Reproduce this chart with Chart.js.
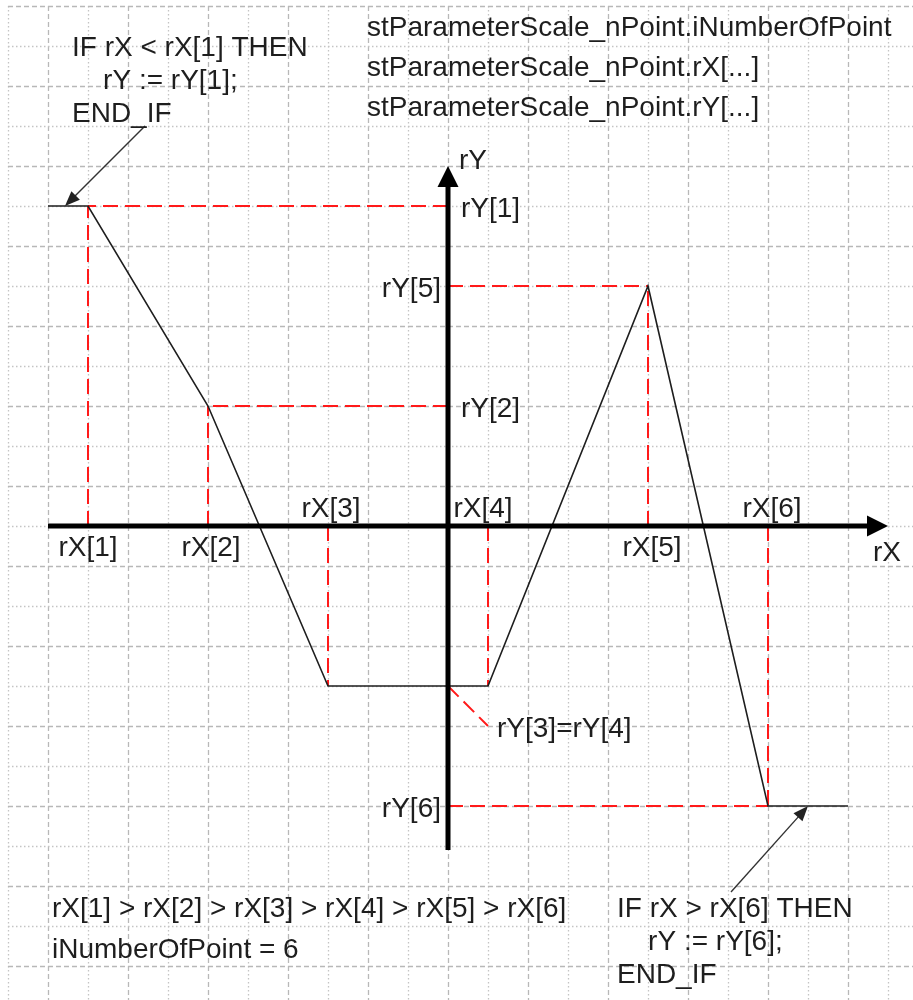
<!DOCTYPE html>
<html>
<head>
<meta charset="utf-8">
<script src="https://cdn.jsdelivr.net/npm/chart.js@4/dist/chart.umd.min.js"></script>
<style>
  html, body { margin: 0; padding: 0; background: #fff; }
  #wrap { width: 913px; height: 1000px; }
</style>
</head>
<body>
<div id="wrap"><canvas id="scale-chart" width="913" height="1000"></canvas></div>
<script>
// 1 unit = one grid cell of the paper
const rX = [-9, -6, -3, 1, 5, 8];
const rY = [8, 3, -4, -4, 6, -7];
const rXBelowFirst = -10;   // flat part before rX[1]
const rXAfterLast = 10;     // flat part after rX[6]
const rXNames = ['rX[1]', 'rX[2]', 'rX[3]', 'rX[4]', 'rX[5]', 'rX[6]'];
const rYNames = ['rY[1]', 'rY[2]', 'rY[3]', 'rY[4]', 'rY[5]', 'rY[6]'];
const rY34Name = 'rY[3]=rY[4]';
const rY34Leader = { x: 1, y: -5 };

// view window and axes (grid units)
const viewX = [-11.2, 11.625];
const viewY = [-11.85, 13.15];
const gridXRange = [-11, 11];
const gridYRange = [-11, 13];
const axisX = [-10, 11];
const axisY = [-8.1, 9];

// text blocks: anchor in grid units, one baseline per line
const notesTopLeft = ['IF rX < rX[1] THEN', '    rY := rY[1];', 'END_IF'];
const notesTopRight = ['stParameterScale_nPoint.iNumberOfPoint', 'stParameterScale_nPoint.rX[...]', 'stParameterScale_nPoint.rY[...]'];
const notesBottomLeft = ['rX[1] > rX[2] > rX[3] > rX[4] > rX[5] > rX[6]', 'iNumberOfPoint = 6'];
const notesBottomRight = ['IF rX > rX[6] THEN', '    rY := rY[6];', 'END_IF'];
const pointerFirst = [{ x: -7.575, y: 10 }, { x: -9.575, y: 8 }];
const pointerLast = [{ x: 7.075, y: -9.15 }, { x: 9, y: -7 }];

const RED = '#ff1a1a';
const INK = '#1e1e1e';
const FONT = '28px "Liberation Sans", Arial, sans-serif';

function curvePoints() {
  const pts = [{ x: rXBelowFirst, y: rY[0] }];
  rX.forEach(function(v, i) { pts.push({ x: v, y: rY[i] }); });
  pts.push({ x: rXAfterLast, y: rY[rY.length - 1] });
  return pts;
}

function guideSegments() {
  const segs = [];
  rX.forEach(function(v, i) {
    segs.push([{ x: v, y: 0 }, { x: v, y: rY[i] }]);
    if (i !== 2 && i !== 3) segs.push([{ x: 0, y: rY[i] }, { x: v, y: rY[i] }]);
  });
  segs.push([{ x: 0, y: rY[2] }, rY34Leader]);
  return segs;
}

const datasets = [{
  data: curvePoints(),
  showLine: true, borderColor: INK, borderWidth: 1.6,
  pointRadius: 0, order: 0
}];
guideSegments().forEach(function(s) {
  datasets.push({
    data: s, showLine: true, borderColor: RED, borderWidth: 2,
    borderDash: [15, 7], pointRadius: 0, order: 1
  });
});

function px(chart, p) {
  return [chart.scales.x.getPixelForValue(p.x), chart.scales.y.getPixelForValue(p.y)];
}

const paperGrid = {
  id: 'paperGrid',
  beforeDatasetsDraw: function(chart) {
    const ctx = chart.ctx, sx = chart.scales.x, sy = chart.scales.y, a = chart.chartArea;
    const left = sx.getPixelForValue(gridXRange[0]), top = sy.getPixelForValue(gridYRange[1]);
    ctx.save();
    ctx.lineWidth = 1.3;
    for (let v = gridXRange[0]; v <= gridXRange[1]; v++) {
      const p = Math.round(sx.getPixelForValue(v)) + 0.5;
      const dashed = Math.abs(v) % 2 === 0;
      ctx.setLineDash(dashed ? [5, 3] : [1.5, 2.5]);
      ctx.strokeStyle = dashed ? '#b8b8b8' : '#c4c4c4';
      ctx.beginPath(); ctx.moveTo(p, top); ctx.lineTo(p, a.bottom); ctx.stroke();
    }
    for (let v = gridYRange[0]; v <= gridYRange[1]; v++) {
      const p = Math.round(sy.getPixelForValue(v)) + 0.5;
      const dashed = Math.abs(v) % 2 === 1;
      ctx.setLineDash(dashed ? [5, 3] : [1.5, 2.5]);
      ctx.strokeStyle = dashed ? '#b8b8b8' : '#c4c4c4';
      ctx.beginPath(); ctx.moveTo(left, p); ctx.lineTo(a.right, p); ctx.stroke();
    }
    ctx.restore();
  }
};

function arrowHead(ctx, from, to, len, half) {
  const ang = Math.atan2(to[1] - from[1], to[0] - from[0]);
  ctx.beginPath();
  ctx.moveTo(to[0], to[1]);
  ctx.lineTo(to[0] - len * Math.cos(ang) + half * Math.sin(ang), to[1] - len * Math.sin(ang) - half * Math.cos(ang));
  ctx.lineTo(to[0] - len * Math.cos(ang) - half * Math.sin(ang), to[1] - len * Math.sin(ang) + half * Math.cos(ang));
  ctx.closePath();
  ctx.fill();
}

function textBlock(ctx, lines, x, y, step) {
  lines.forEach(function(t, i) { ctx.fillText(t, x, y + i * step); });
}

const overlay = {
  id: 'overlay',
  afterDatasetsDraw: function(chart) {
    const ctx = chart.ctx;
    ctx.save();
    // axes
    ctx.strokeStyle = '#000'; ctx.fillStyle = '#000'; ctx.lineWidth = 5;
    const xa0 = px(chart, { x: axisX[0], y: 0 }), xa1 = px(chart, { x: axisX[1], y: 0 });
    const ya0 = px(chart, { x: 0, y: axisY[0] }), ya1 = px(chart, { x: 0, y: axisY[1] });
    ctx.beginPath(); ctx.moveTo(xa0[0], xa0[1]); ctx.lineTo(xa1[0] - 15, xa1[1]); ctx.stroke();
    ctx.beginPath(); ctx.moveTo(ya0[0], ya0[1]); ctx.lineTo(ya1[0], ya1[1] + 15); ctx.stroke();
    arrowHead(ctx, xa0, xa1, 21, 10.5);
    arrowHead(ctx, ya0, ya1, 21, 10.5);

    // pointers
    ctx.strokeStyle = '#333'; ctx.fillStyle = '#222'; ctx.lineWidth = 1.4;
    [pointerFirst, pointerLast].forEach(function(pp) {
      const a = px(chart, pp[0]), b = px(chart, pp[1]);
      ctx.beginPath(); ctx.moveTo(a[0], a[1]); ctx.lineTo(b[0] - (b[0] - a[0]) * 0.1, b[1] - (b[1] - a[1]) * 0.1); ctx.stroke();
      arrowHead(ctx, a, b, 15, 6);
    });

    // labels
    ctx.font = FONT; ctx.fillStyle = INK; ctx.textBaseline = 'alphabetic';
    ctx.textAlign = 'center';
    const below = [true, true, false, false, true, false];
    const shiftX = [0, 3, 3, -5, 4, 4];
    rX.forEach(function(v, i) {
      const p = px(chart, { x: v, y: 0 });
      ctx.fillText(rXNames[i], p[0] + shiftX[i], p[1] + (below[i] ? 30 : -9));
    });
    [0, 1, 4, 5].forEach(function(i) {
      const p = px(chart, { x: 0, y: rY[i] });
      const right = rY[i] === rY[0] || rY[i] === rY[1];
      ctx.textAlign = right ? 'left' : 'right';
      ctx.fillText(rYNames[i], p[0] + (right ? 13 : -7), p[1] + 11);
    });
    ctx.textAlign = 'left';
    const lp = px(chart, rY34Leader);
    ctx.fillText(rY34Name, lp[0] + 9, lp[1] + 11);
    ctx.fillText('rY', ya1[0] + 11, ya1[1] + 3);
    ctx.fillText('rX', xa1[0] - 15, xa1[1] + 35);

    // notes
    textBlock(ctx, notesTopLeft, 72, 56, 33);
    textBlock(ctx, notesTopRight, 367, 36, 40);
    textBlock(ctx, notesBottomLeft, 52, 917, 41);
    textBlock(ctx, notesBottomRight, 617, 917, 33);
    ctx.restore();
  }
};

new Chart(document.getElementById('scale-chart').getContext('2d'), {
  type: 'scatter',
  data: { datasets: datasets },
  options: {
    responsive: false, animation: false, devicePixelRatio: 1,
    layout: { padding: 0 },
    scales: {
      x: { type: 'linear', min: viewX[0], max: viewX[1], display: false },
      y: { type: 'linear', min: viewY[0], max: viewY[1], display: false }
    },
    plugins: { legend: { display: false }, tooltip: { enabled: false } }
  },
  plugins: [paperGrid, overlay]
});
</script>
</body>
</html>
